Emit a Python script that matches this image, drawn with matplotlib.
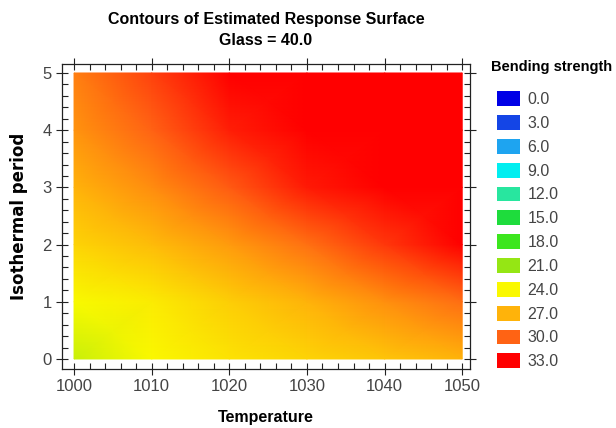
import numpy as np
import matplotlib
matplotlib.use("Agg")
import matplotlib.pyplot as plt
from matplotlib.colors import LinearSegmentedColormap, Normalize
from matplotlib.patches import Patch
from matplotlib.ticker import MultipleLocator

# ---- data ----
temperature = [1000, 1010, 1020, 1030, 1040, 1050]
isothermal_period = [0, 1, 2, 3, 4, 5]
bending_strength = [
    [22.5, 24.0, 24.9, 25.6, 26.2, 27.0],   # period 0
    [23.9, 24.6, 25.9, 27.0, 28.3, 29.6],   # period 1
    [25.6, 26.6, 27.9, 29.4, 31.3, 33.0],   # period 2
    [27.0, 28.4, 30.2, 32.2, 33.5, 34.5],   # period 3
    [28.2, 30.0, 32.0, 33.5, 34.5, 35.5],   # period 4
    [29.0, 31.0, 33.0, 34.5, 35.5, 36.5],   # period 5
]
legend_levels = [0.0, 3.0, 6.0, 9.0, 12.0, 15.0, 18.0, 21.0, 24.0, 27.0, 30.0, 33.0]
level_colors = ["#0000E6", "#1446E6", "#1EA5F0", "#00F0F0", "#28E6A0", "#1EDC3C",
                "#3CE61E", "#96E614", "#FAFA00", "#FFB40A", "#FF6414", "#FF0000"]

font = ["Liberation Sans", "DejaVu Sans"]
plt.rcParams["font.family"] = font

cmap = LinearSegmentedColormap.from_list(
    "bend", [(v / 33.0, c) for v, c in zip(legend_levels, level_colors)])
cmap.set_over(level_colors[-1])
norm = Normalize(vmin=0, vmax=33, clip=True)

fig = plt.figure(figsize=(6.16, 4.28), dpi=100)
ax = fig.add_axes([62 / 616, 1 - 369 / 428, (470 - 62) / 616, (369 - 64) / 428])

T, P = np.meshgrid(temperature, isothermal_period)
Z = np.array(bending_strength)
ax.pcolormesh(T, P, Z, shading="gouraud", cmap=cmap, norm=norm)

ax.set_xlim(998.45, 1051.0)
ax.set_ylim(-0.175, 5.157)
ax.xaxis.set_major_locator(MultipleLocator(10))
ax.xaxis.set_minor_locator(MultipleLocator(2))
ax.yaxis.set_major_locator(MultipleLocator(1))
ax.yaxis.set_minor_locator(MultipleLocator(0.2))
ax.tick_params(which="both", top=True, right=True, colors="#222222",
               labelcolor="#444444", labelsize=12)
ax.tick_params(which="major", direction="inout", length=8, width=0.8)
ax.tick_params(which="minor", direction="in", length=4, width=0.8)
for s in ax.spines.values():
    s.set_color("#222222")
    s.set_linewidth(0.9)

ax.set_xlabel("Temperature", fontsize=11.5, fontweight="bold", labelpad=11)
ax.set_ylabel("Isothermal period", fontsize=12, fontweight="bold", labelpad=10,
              family=["DejaVu Sans"])
ax.set_title("Contours of Estimated Response Surface\nGlass = 40.0",
             fontsize=11.5, fontweight="bold", pad=14, linespacing=1.5)

fig.text(491 / 616, 1 - 67 / 428, "Bending strength", fontsize=10.5,
         fontweight="bold", ha="left", va="center")

handles = [Patch(facecolor=cmap(norm(v)), edgecolor="none") for v in legend_levels]
labels = [f"{v:.1f}" for v in legend_levels]
leg = fig.legend(handles, labels, loc="upper left",
                 bbox_to_anchor=(486 / 616, 1 - 80 / 428), frameon=False,
                 fontsize=11.5,
                 handlelength=1.45, handleheight=1.05, handletextpad=0.45,
                 labelspacing=0.5, borderpad=0.2)
for t in leg.get_texts():
    t.set_color("#444444")

fig.savefig("out.png", dpi=100)
